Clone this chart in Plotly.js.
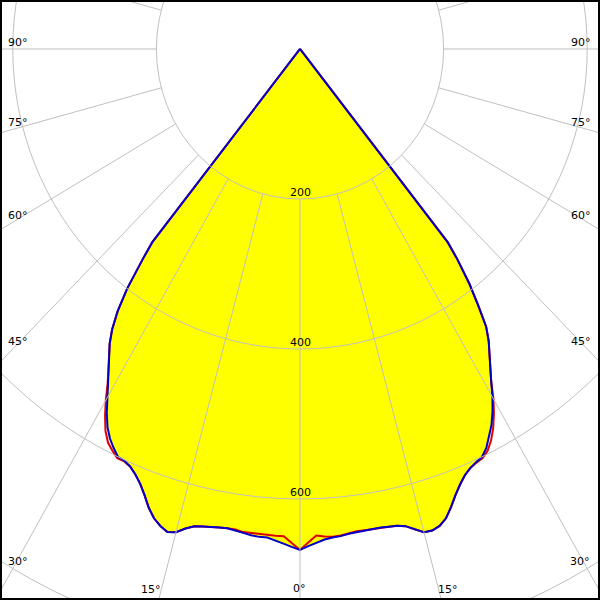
<!DOCTYPE html>
<html><head><meta charset="utf-8">
<script src="https://cdn.plot.ly/plotly-3.0.1.min.js"></script>
<style>html,body{margin:0;padding:0;background:#fff;overflow:hidden}#chart{width:600px;height:600px}</style>
</head><body><div id="chart"></div>
<script>
// gamma angles (deg), negative = left half of the diagram
const gammaAngles = [-90,-39,-38.6,-38,-37,-36,-35,-34,-33,-32,-31,-30,-29,-28,-27,-26,-25,-24,-23,-22,-21,-20,-19,-18,-17,-16,-15,-14,-13,-12,-11,-10,-9,-8,-7,-6,-5,-4,-3,-2,-1,
  0,1,2,3,4,5,6,7,8,9,10,11,12,13,14,15,16,17,18,19,20,21,22,23,24,25,26,27,28,29,30,31,32,33,34,35,36,37,38,38.6,39,90];
// luminous intensity (cd/klm) - C0/C180 plane (blue)
const bluePlane = [0,0,330,356,400,432,456,474,488,504,520,538,555,571,583,592,600,601,605,612,621,633,647,658,665,670,667,659,653,651,649,648,647,648,650,652,653,653,656,660,664,
  668,663,659,655,653,652,650,649,648,648,648,649,650,653,660,667,668,665,658,646,633,622,613,607,603,600,592,580,568,553,536,517,500,485,470,452,422,392,356,330,0,0];
// C90/C270 plane (red)
const redPlane = [0,0,330,356,400,432,456,474,488,504,520,541,560,577,589,596,602,602,605,612,621,633,647,658,665,670,667,659,653,651,649,648,647,647,649,649,649,650,650,650,659,
  668,658,649,651,652,651,649,648,648,648,648,649,650,653,660,667,668,665,658,646,633,622,613,607,604,602,596,586,573,557,539,517,500,485,470,452,422,392,356,330,0,0];
const ringValues = [200,400,600,800];
const ringLabels = ['200','400','600'];
const spokeAngles = [-165,-150,-135,-120,-105,-90,-75,-60,-45,-30,-15,0,15,30,45,60,75,90,105,120,135,150,165,180];
const angleLabels = ['90°','75°','60°','45°','30°','90°','75°','60°','45°','30°','15°','0°','15°'];

const rad = d => d*Math.PI/180;
const toX = (g,v) => g.map((a,i)=> v[i]*Math.sin(rad(a)));
const toY = (g,v) => g.map((a,i)=> -v[i]*Math.cos(rad(a)));

const traces = [
  {x: toX(gammaAngles,bluePlane), y: toY(gammaAngles,bluePlane), mode:'lines', fill:'toself',
   fillcolor:'#ffff00', line:{width:0, color:'rgba(0,0,0,0)'}, hoverinfo:'skip', showlegend:false},
  {x: toX(gammaAngles,redPlane), y: toY(gammaAngles,redPlane), mode:'lines',
   line:{color:'#e00000', width:2}, showlegend:false},
  {x: toX(gammaAngles,bluePlane), y: toY(gammaAngles,bluePlane), mode:'lines',
   line:{color:'#0000c8', width:2}, showlegend:false}
];

const gridColor = '#c0c0c0';
const shapes = [];
ringValues.forEach(r => shapes.push({type:'circle', xref:'x', yref:'y', x0:-r, x1:r, y0:-r, y1:r,
  line:{color:gridColor, width:1}, layer:'above'}));
spokeAngles.forEach(a => {
  const r0 = ringValues[0], r1 = 2000;
  shapes.push({type:'line', xref:'x', yref:'y',
    x0:r0*Math.sin(rad(a)), y0:-r0*Math.cos(rad(a)), x1:r1*Math.sin(rad(a)), y1:-r1*Math.cos(rad(a)),
    line:{color:gridColor, width:1}, layer:'above'});
});
shapes.push({type:'rect', xref:'paper', yref:'paper', x0:0, x1:1, y0:0, y1:1, line:{color:'#000', width:4}, layer:'above'});

const labelPos = [[18,42],[18,122],[18,215],[18,342],[18,561],[581,42],[581,122],[581,215],[581,342],[580,561],[151,589],[299,588],[448,589]];
const font = {family:'DejaVu Sans, Verdana, sans-serif', size:11, color:'#000'};
const annotations = angleLabels.map((t,i)=>({text:t, xref:'paper', yref:'paper',
  x:labelPos[i][0]/600, y:1-labelPos[i][1]/600, xanchor:'center', yanchor:'middle', showarrow:false, font}));
ringLabels.forEach((t,i)=> annotations.push({text:t, xref:'x', yref:'y', x:0, y:-ringValues[i],
  yshift:6, xanchor:'center', yanchor:'middle', showarrow:false, font}));

const layout = {
  width:600, height:600, margin:{l:0,r:0,t:0,b:0},
  paper_bgcolor:'#fff', plot_bgcolor:'#fff', showlegend:false,
  xaxis:{range:[-417.8,417.8], visible:false, fixedrange:true},
  yaxis:{range:[-734.7,65.3], visible:false, fixedrange:true},
  shapes, annotations
};
Plotly.newPlot('chart', traces, layout, {staticPlot:true, displayModeBar:false});
</script></body></html>
